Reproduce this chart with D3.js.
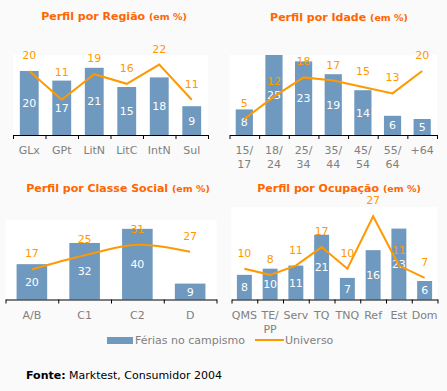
<!DOCTYPE html>
<html>
<head>
<meta charset="utf-8">
<script src="https://cdn.jsdelivr.net/npm/d3@7"></script>
<style>
  body { margin: 0; background: #fafafa; }
  svg { display: block; font-family: "DejaVu Sans", Verdana, sans-serif; }
</style>
</head>
<body>
<div id="app"></div>
<script>
// data
const regiaoCats = ["GLx", "GPt", "LitN", "LitC", "IntN", "Sul"]
const regiaoFerias = [20, 17, 21, 15, 18, 9]
const regiaoUniverso = [20, 11, 19, 16, 22, 11]

const idadeCats = [["15/", "17"], ["18/", "24"], ["25/", "34"], ["35/", "44"], ["45/", "54"], ["55/", "64"], ["+64"]]
const idadeFerias = [8, 25, 23, 19, 14, 6, 5]
const idadeUniverso = [5, 12, 18, 17, 15, 13, 20]

const classeCats = [["A/B"], ["C1"], ["C2"], ["D"]]
const classeFerias = [20, 32, 40, 9]
const classeUniverso = [17, 25, 31, 27]

const ocupCats = [["QMS"], ["TE/", "PP"], ["Serv"], ["TQ"], ["TNQ"], ["Ref"], ["Est"], ["Dom"]]
const ocupFerias = [8, 10, 11, 21, 7, 16, 23, 6]
const ocupUniverso = [10, 8, 11, 17, 10, 27, 11, 7]

const BAR = "#7099bf", LINE = "#ff9900", TITLE = "#ff6600", GREY = "#808080"

const svg = d3.select("#app").append("svg")
  .attr("width", 447)
  .attr("height", 391)

svg.append("rect").attr("width", 447).attr("height", 391).attr("fill", "#fafafa")

const charts = [
  { title: "Perfil por Região", tx: 114, ty: 20, cats: regiaoCats.map(d => [d]), bars: regiaoFerias, line: regiaoUniverso,
    x0: 13, x1: 208, base: 135, top: 55, max: 25, smooth: false, lift: [0, 12, 0, 0, 0, 0] },
  { title: "Perfil por Idade", tx: 339, ty: 21, cats: idadeCats, bars: idadeFerias, line: idadeUniverso,
    x0: 229.5, x1: 437, base: 135, top: 55, max: 25, smooth: false },
  { title: "Perfil por Classe Social", tx: 118, ty: 192, cats: classeCats, bars: classeFerias, line: classeUniverso,
    x0: 5.5, x1: 216.5, base: 299.5, top: 220, max: 45, smooth: true },
  { title: "Perfil por Ocupação", tx: 339, ty: 192, cats: ocupCats, bars: ocupFerias, line: ocupUniverso,
    x0: 231.5, x1: 437.5, base: 299.5, top: 207, max: 30, smooth: false },
]

charts.forEach(c => {
  const n = c.cats.length
  const idx = d3.range(n)
  const fx = d3.scaleBand().domain(idx).range([c.x0, c.x1]).paddingInner(0.42).paddingOuter(0.21)
  const fy = d3.scaleLinear().domain([0, c.max]).range([c.base, c.top])
  const cx = i => fx(i) + fx.bandwidth() / 2
  const lift = c.lift || []

  const g = svg.append("g")

  g.append("rect")
    .attr("x", c.x0).attr("y", c.top)
    .attr("width", c.x1 - c.x0).attr("height", c.base - c.top)
    .attr("fill", "#fff")

  const t = g.append("text")
    .attr("x", c.tx).attr("y", c.ty)
    .attr("text-anchor", "middle")
    .attr("fill", TITLE)
    .attr("font-weight", "bold")
  t.append("tspan").attr("font-size", 11).text(c.title + " ")
  t.append("tspan").attr("font-size", 9.5).text("(em %)")

  g.selectAll("rect.bar")
    .data(c.bars)
    .join("rect")
      .attr("class", "bar")
      .attr("x", (d, i) => fx(i))
      .attr("y", d => fy(d))
      .attr("width", fx.bandwidth())
      .attr("height", d => fy(0) - fy(d))
      .attr("fill", BAR)

  g.selectAll("text.bv")
    .data(c.bars)
    .join("text")
      .attr("class", "bv")
      .attr("x", (d, i) => cx(i))
      .attr("y", d => (fy(d) + fy(0)) / 2 + 4)
      .attr("text-anchor", "middle")
      .attr("font-size", 11)
      .attr("fill", "#fff")
      .text(d => d)

  // axis with ticks at band boundaries
  const fb = d3.scaleLinear().domain([0, n]).range([c.x0, c.x1])
  const ax = g.append("g")
    .attr("transform", `translate(0,${c.base})`)
    .call(d3.axisBottom(fb).tickValues(d3.range(n + 1)).tickFormat("").tickSize(4).tickSizeOuter(0))
  ax.selectAll("path, line").attr("stroke", "#000")

  const lab = g.selectAll("text.cat")
    .data(c.cats)
    .join("text")
      .attr("class", "cat")
      .attr("text-anchor", "middle")
      .attr("font-size", 11)
      .attr("fill", GREY)
  lab.selectAll("tspan")
    .data((d, i) => d.map((s, k) => ({ s, k, i })))
    .join("tspan")
      .attr("x", d => cx(d.i))
      .attr("y", d => c.base + 19 + d.k * 14)
      .text(d => d.s)

  const line = d3.line()
    .x((d, i) => cx(i))
    .y(d => fy(d))
    .curve(c.smooth ? d3.curveCatmullRom.alpha(0.5) : d3.curveLinear)

  g.append("path")
    .datum(c.line)
    .attr("d", line)
    .attr("fill", "none")
    .attr("stroke", LINE)
    .attr("stroke-width", 2)

  g.selectAll("text.lv")
    .data(c.line)
    .join("text")
      .attr("class", "lv")
      .attr("x", (d, i) => cx(i))
      .attr("y", (d, i) => fy(d) - 12 - (lift[i] || 0))
      .attr("text-anchor", "middle")
      .attr("font-size", 11)
      .attr("fill", LINE)
      .text(d => d)
})

// legend
const lg = svg.append("g")
lg.append("rect").attr("x", 107).attr("y", 337).attr("width", 26).attr("height", 7).attr("fill", BAR)
lg.append("text").attr("x", 135).attr("y", 344).attr("font-size", 11).attr("fill", GREY).text("Férias no campismo")
lg.append("line").attr("x1", 255).attr("x2", 284).attr("y1", 340).attr("y2", 340)
  .attr("stroke", LINE).attr("stroke-width", 2)
lg.append("text").attr("x", 285).attr("y", 344).attr("font-size", 11).attr("fill", GREY).text("Universo")

// source
const src = svg.append("text").attr("x", 26).attr("y", 379).attr("font-size", 11).attr("fill", "#000")
src.append("tspan").attr("font-weight", "bold").text("Fonte:")
src.append("tspan").text(" Marktest, Consumidor 2004")
</script>
</body>
</html>
